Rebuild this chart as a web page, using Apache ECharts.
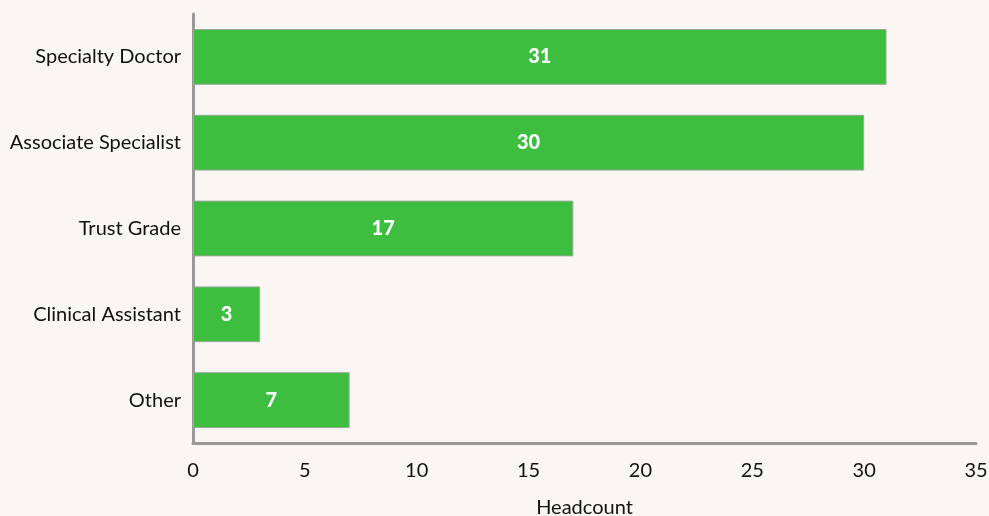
<!DOCTYPE html>
<html><head><meta charset="utf-8">
<script src="https://cdn.jsdelivr.net/npm/echarts@6/dist/echarts.min.js"></script>
<style>html,body{margin:0;padding:0;background:#faf6f3;}#c{width:989px;height:516px;}</style>
</head><body><div id="c"></div>
<script>
const categories = ["Specialty Doctor","Associate Specialist","Trust Grade","Clinical Assistant","Other"];
const values = [31,30,17,3,7];
const xTicks = [0,5,10,15,20,25,30,35];
const F = 'Lato';
const chart = echarts.init(document.getElementById('c'));
chart.setOption({
  backgroundColor:'#faf6f3',
  animation:false,
  textStyle:{fontFamily:F},
  grid:{left:193,right:13,top:14,bottom:73,containLabel:false,outerBoundsMode:'none'},
  xAxis:{type:'value',min:0,max:35,interval:5,
    name:'Headcount',nameLocation:'middle',nameGap:55,
    nameTextStyle:{fontSize:20,color:'#111',fontFamily:F},
    axisLine:{show:true,lineStyle:{color:'#999',width:3}},
    axisTick:{show:false},splitLine:{show:false},
    axisLabel:{fontSize:20,color:'#111',margin:18,fontFamily:F}},
  yAxis:{type:'category',data:categories,inverse:true,
    axisLine:{show:true,lineStyle:{color:'#999',width:3}},
    axisTick:{show:false},
    axisLabel:{fontSize:20,color:'#111',margin:12,fontFamily:F}},
  series:[{type:'bar',data:values,barWidth:'65%',
    itemStyle:{color:'#3dbe3f',borderColor:'#9aa89a',borderWidth:1},
    label:{show:true,position:'inside',color:'#fff',fontWeight:900,fontSize:20,fontFamily:F}}]
});
</script></body></html>
